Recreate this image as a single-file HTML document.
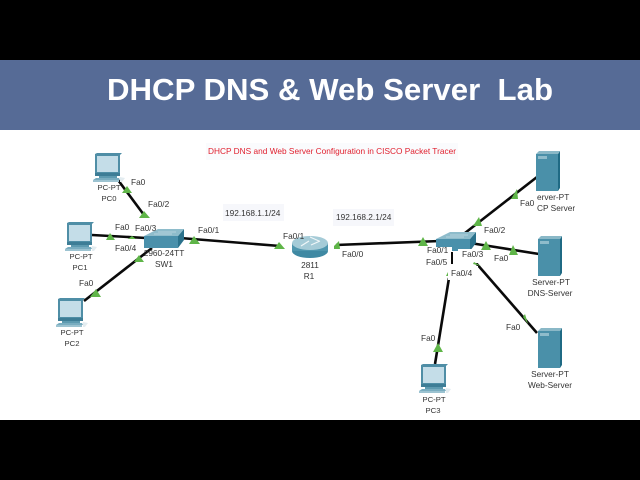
<!DOCTYPE html>
<html><head><meta charset="utf-8"><style>
html,body{margin:0;padding:0;background:#000;width:640px;height:480px;overflow:hidden}
svg{display:block}
text{font-family:"Liberation Sans",sans-serif;font-size:8.3px;fill:#333}
.m{text-anchor:middle}
.p{font-size:7.7px}
.l{stroke:#0a0a0a;stroke-width:2.6;fill:none}
.t{fill:#5fb548}
</style></head><body>
<svg width="640" height="480" viewBox="0 0 640 480" xmlns="http://www.w3.org/2000/svg">
<defs>
<g id="pc">
<path d="M3 1L5 0H30L28 2V22H3Z" fill="#4f8ea6"/>
<rect x="5" y="3" width="21" height="16" fill="#c4dde8"/>
<path d="M3 20H28V23H3Z" fill="#3d7d96"/>
<path d="M7 23H25V25H7Z" fill="#5d9ab0"/>
<path d="M4 25H27L28 27H1Z" fill="#79adc0"/>
<path d="M1 27H27V29H1Z" fill="#9cc3d1"/>
<path d="M28 24l5 1-3 4h-2z" fill="#e3ecf0"/>
</g>
<g id="srv">
<path d="M0 3H22V40H0Z" fill="#4a90a9"/>
<path d="M22 3L24 0V37L22 40Z" fill="#1f6a84"/>
<path d="M0 3L3 0H24L22 3Z" fill="#8ab8c7"/>
<rect x="2" y="5" width="9" height="3" fill="#8fbccb"/>
</g>
<g id="sw">
<path d="M0 8H34V20H0Z" fill="#4a90ab"/>
<path d="M34 8L40 1V12L34 20Z" fill="#2b728c"/>
<path d="M0 8L14 1H40L34 8Z" fill="#8ebccb"/>
<path d="M14 4H32M10 6H28" stroke="#d9e8ee" stroke-width=".6"/>
</g>
</defs>
<rect width="640" height="480" fill="#000"/>
<rect y="60" width="640" height="70" fill="#566b96"/>
<rect y="130" width="640" height="290" fill="#fff"/>
<text x="107" y="100" textLength="446" lengthAdjust="spacingAndGlyphs" style="font-size:31px;font-weight:bold;fill:#fff" xml:space="preserve">DHCP DNS &amp; Web Server  Lab</text>

<rect x="206" y="143" width="252" height="17" fill="#fafbfd"/>
<rect x="223" y="204" width="61" height="17" fill="#f6f7fb"/>
<rect x="333" y="209" width="61" height="17" fill="#f6f7fb"/>
<text x="208" y="154" textLength="248" lengthAdjust="spacingAndGlyphs" style="font-size:8.3px;fill:#e0202f">DHCP DNS and Web Server Configuration in CISCO Packet Tracer</text>

<path class="l" d="M118 180L144 215"/>
<path class="l" d="M92 235L146 238"/>
<path class="l" d="M84 301L152 248"/>
<path class="l" d="M180 238L280 246"/>
<path class="l" d="M336 245L440 241"/>
<path class="l" d="M465 233L537 177"/>
<path class="l" d="M470 243L539 254"/>
<path class="l" d="M476 263L537 333"/>
<path class="l" d="M449 278L435 364"/>

<use href="#sw" x="144" y="228"/>
<use href="#sw" x="436" y="231"/>
<rect x="424" y="247" width="28" height="24" fill="#fff"/>
<rect x="458" y="249" width="26" height="14" fill="#fff"/>
<rect x="448" y="266" width="30" height="14" fill="#fff"/>
<path d="M452 252V264" stroke="#0a0a0a" stroke-width="2"/>

<g transform="translate(292,235)">
<ellipse cx="18" cy="16" rx="18" ry="7" fill="#3f89a3"/>
<rect y="8" width="36" height="8" fill="#4f96ae"/>
<ellipse cx="18" cy="8" rx="18" ry="7" fill="#a5cbd7"/>
<path d="M9 11L17 6M19 10L28 6M18 2L27 6" stroke="#f0f6f8" stroke-width="1.2" fill="none"/>
</g>

<use href="#pc" x="92" y="153"/>
<use href="#pc" x="64" y="222"/>
<use href="#pc" x="55" y="298"/>
<use href="#pc" x="418" y="364"/>
<use href="#srv" x="536" y="151"/>
<use href="#srv" x="538" y="236"/>
<use href="#srv" x="538" y="328"/>

<path class="t" d="M122 193L132 193L127 186Z"/>
<path class="t" d="M139 218L150 218L144 211Z"/>
<path class="t" d="M106 240L115 240L110 233Z"/>
<path class="t" d="M128 239L136 239L132 236Z"/>
<path class="t" d="M134 262L144 262L139 255Z"/>
<path class="t" d="M90 297L101 297L96 289Z"/>
<path class="t" d="M189 244L200 244L194 236Z"/>
<path class="t" d="M274 249L285 249L279 242Z"/>
<path class="t" d="M334 249L340 249L339 241L334 246Z"/>
<path class="t" d="M418 246L428 246L423 237Z"/>
<path class="t" d="M473 226L482 226L479 217Z"/>
<path class="t" d="M511 199L518 199L517 189Z"/>
<path class="t" d="M481 250L491 250L486 241Z"/>
<path class="t" d="M509 255L518 255L513 245Z"/>
<path class="t" d="M473 264L481 266L474 262Z"/>
<path class="t" d="M446 276L448 276L448 272Z"/>
<path class="t" d="M523 317L528 324L525 314Z"/>
<path class="t" d="M433 352L443 352L438 343Z"/>

<text x="131" y="185">Fa0</text>
<text x="148" y="207">Fa0/2</text>
<text x="115" y="230">Fa0</text>
<text x="135" y="231">Fa0/3</text>
<text x="115" y="251">Fa0/4</text>
<text x="79" y="286">Fa0</text>
<text x="198" y="233">Fa0/1</text>
<text x="225" y="216">192.168.1.1/24</text>
<text x="336" y="220">192.168.2.1/24</text>
<text x="283" y="239">Fa0/1</text>
<text x="342" y="257">Fa0/0</text>
<text x="427" y="253">Fa0/1</text>
<text x="426" y="265">Fa0/5</text>
<text x="462" y="257">Fa0/3</text>
<text x="451" y="276">Fa0/4</text>
<text x="484" y="233">Fa0/2</text>
<text x="520" y="206">Fa0</text>
<text x="494" y="261">Fa0</text>
<text x="506" y="330">Fa0</text>
<text x="421" y="341">Fa0</text>

<text class="m p" x="109" y="190">PC-PT</text>
<text class="m p" x="109" y="201">PC0</text>
<text class="m p" x="81" y="259">PC-PT</text>
<text class="m p" x="80" y="270">PC1</text>
<text class="m p" x="72" y="335">PC-PT</text>
<text class="m p" x="72" y="346">PC2</text>
<text class="m p" x="434" y="402">PC-PT</text>
<text class="m p" x="433" y="413">PC3</text>
<text class="m" x="164" y="256">2960-24TT</text>
<text class="m" x="164" y="267">SW1</text>
<text class="m" x="310" y="268">2811</text>
<text class="m" x="309" y="279">R1</text>
<text x="537" y="200">erver-PT</text>
<text x="537" y="211">CP Server</text>
<text class="m" x="551" y="285">Server-PT</text>
<text class="m" x="550" y="296">DNS-Server</text>
<text class="m" x="550" y="377">Server-PT</text>
<text class="m" x="550" y="388">Web-Server</text>
</svg>
</body></html>
